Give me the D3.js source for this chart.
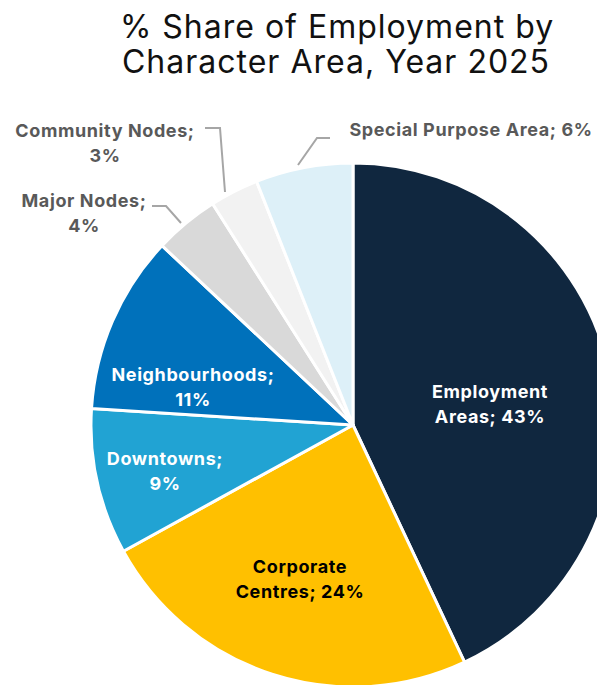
<!DOCTYPE html>
<html>
<head>
<meta charset="utf-8">
<script src="https://cdn.jsdelivr.net/npm/d3@7"></script>
<style>
  html, body { margin: 0; padding: 0; background: #fff; }
  svg { display: block; }
  .title { font-family: Inter, 'Noto Sans', sans-serif; font-size: 32px; letter-spacing: 1px; fill: #111; }
  .label { font-family: Inter, 'Noto Sans', sans-serif; font-size: 18px; font-weight: 700; letter-spacing: 0.6px; }
</style>
</head>
<body>
<div class="dataviz"></div>
<script>
// data
const categories = [
  'Employment Areas',
  'Corporate Centres',
  'Downtowns',
  'Neighbourhoods',
  'Major Nodes',
  'Community Nodes',
  'Special Purpose Area'
]
const shares = [43, 24, 9, 11, 4, 3, 6]
const colors = ['#10273f', '#ffc000', '#21a3d3', '#0071bb', '#d9d9d9', '#f2f2f2', '#ddf0f8']

// label text lines per slice
const labelLines = [
  ['Employment', 'Areas; 43%'],
  ['Corporate', 'Centres; 24%'],
  ['Downtowns;', '9%'],
  ['Neighbourhoods;', '11%'],
  ['Major Nodes;', '4%'],
  ['Community Nodes;', '3%'],
  ['Special Purpose Area; 6%']
]

const width = 597
const height = 685
const cx = 353
const cy = 425
const radius = 262

// label placement (first-line baseline) and leader lines
const labelLayout = [
  { x: 490, y: 398, fill: '#ffffff' },
  { x: 300, y: 573, fill: '#000000' },
  { x: 165, y: 465, fill: '#ffffff' },
  { x: 193, y: 381, fill: '#ffffff' },
  { x: 84, y: 207, fill: '#595959', leader: [[152, 206], [166, 206], [181, 223]] },
  { x: 105, y: 137, fill: '#595959', leader: [[205, 128], [220, 128], [225, 192]] },
  { x: 471, y: 136, fill: '#595959', leader: [[330, 138], [317, 138], [298, 165]] }
]

const data = categories.map((c, i) => ({ name: c, value: shares[i], color: colors[i], lines: labelLines[i], layout: labelLayout[i] }))

const svg = d3.select('.dataviz').append('svg').attr('width', width).attr('height', height)

// title
const title = svg.append('text').attr('class', 'title').attr('text-anchor', 'middle')
title.append('tspan').attr('x', 337).attr('y', 38).text('% Share of Employment by')
title.append('tspan').attr('x', 336).attr('y', 73).text('Character Area, Year 2025')

// pie
const pie = d3.pie().sort(null).value(d => d.value)
const arc = d3.arc().innerRadius(0).outerRadius(radius)

const g = svg.append('g').attr('transform', `translate(${cx}, ${cy})`)

g.selectAll('path')
  .data(pie(data))
  .enter()
  .append('path')
  .attr('d', arc)
  .attr('fill', d => d.data.color)
  .attr('stroke', '#fff')
  .attr('stroke-width', 3)
  .attr('stroke-linejoin', 'round')

// leader lines
svg.selectAll('.leader')
  .data(data.filter(d => d.layout.leader))
  .enter()
  .append('path')
  .attr('class', 'leader')
  .attr('d', d => d3.line()(d.layout.leader))
  .attr('fill', 'none')
  .attr('stroke', '#a6a6a6')
  .attr('stroke-width', 2)

// labels
const labels = svg.selectAll('.label')
  .data(data)
  .enter()
  .append('text')
  .attr('class', 'label')
  .attr('text-anchor', 'middle')
  .attr('fill', d => d.layout.fill)

labels.each(function (d) {
  d3.select(this)
    .selectAll('tspan')
    .data(d.lines)
    .enter()
    .append('tspan')
    .attr('x', d.layout.x)
    .attr('y', (l, i) => d.layout.y + i * 25)
    .text(l => l)
})
</script>
</body>
</html>
